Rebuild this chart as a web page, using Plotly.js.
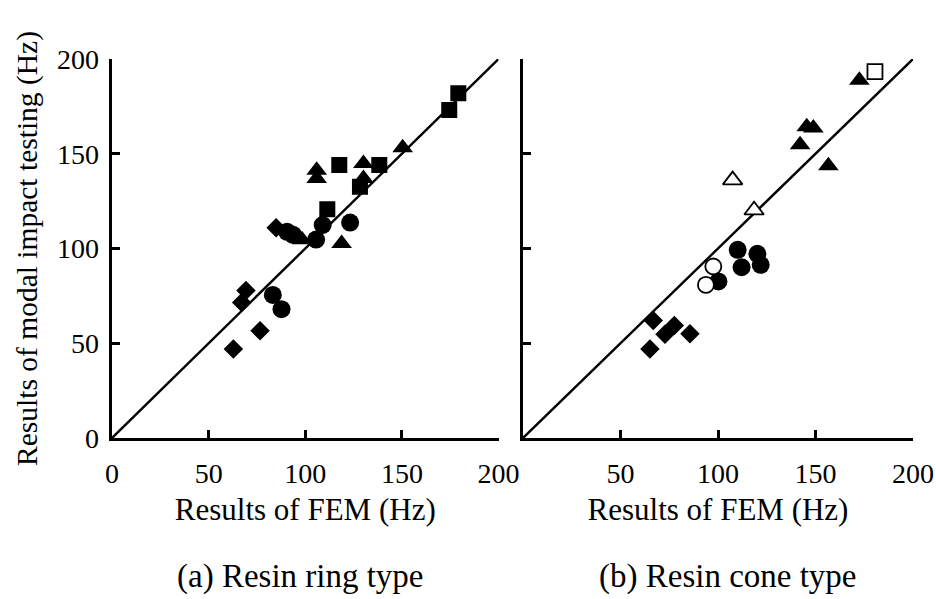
<!DOCTYPE html>
<html>
<head>
<meta charset="utf-8">
<script src="https://cdn.plot.ly/plotly-3.0.1.min.js"></script>
<style>html,body{margin:0;padding:0;background:#fff}#chart{width:936px;height:599px}</style>
</head>
<body>
<div id="chart"></div>
<script>
// ---- Data: (a) Resin ring type ----
const ringDiamondX = [62.8, 67.1, 69.3, 76.6, 84.9];
const ringDiamondY = [46.9, 71.5, 77.8, 56.6, 110.9];
const ringCircleX = [83.2, 87.7, 90.6, 93.7, 105.6, 109.0, 123.2];
const ringCircleY = [75.5, 68.0, 108.8, 107.2, 104.7, 112.4, 113.7];
const ringTriangleX = [98.3, 105.9, 105.9, 118.8, 130.1, 130.1, 150.4];
const ringTriangleY = [104.6, 141.3, 136.9, 102.6, 144.8, 136.9, 153.1];
const ringSquareX = [111.4, 117.6, 128.3, 138.3, 174.5, 179.2];
const ringSquareY = [120.7, 144.1, 132.6, 144.1, 173.1, 181.9];

// ---- Data: (b) Resin cone type ----
const coneDiamondX = [65.1, 66.8, 72.8, 77.6, 85.6];
const coneDiamondY = [46.9, 62.0, 54.8, 59.4, 55.0];
const coneCircleX = [100.2, 110.1, 112.1, 120.2, 121.9];
const coneCircleY = [82.6, 99.3, 90.1, 97.2, 91.4];
const coneOpenCircleX = [93.8, 97.6];
const coneOpenCircleY = [80.8, 90.5];
const coneTriangleX = [142.1, 145.5, 148.9, 156.6, 172.5];
const coneTriangleY = [154.8, 164.2, 163.6, 143.6, 188.8];
const coneOpenTriangleX = [107.5, 118.5];
const coneOpenTriangleY = [136.1, 120.2];
const coneOpenSquareX = [180.5];
const coneOpenSquareY = [193.3];

// ---- 1:1 reference line ----
const lineX = [0, 200];
const lineY = [0, 200];

// ---- Ticks and labels ----
const tickValsFull = [0, 50, 100, 150, 200];
const tickValsNoZero = [50, 100, 150, 200];
const xTitle = 'Results of FEM (Hz)';
const yTitle = 'Results of modal impact testing (Hz)';
const subTitleA = '(a) Resin ring type';
const subTitleB = '(b) Resin cone type';

const FONT = 'Liberation Serif';
const black = '#000';

function filled(x, y, sym, size, xa, ya) {
  return {x: x, y: y, xaxis: xa, yaxis: ya, type: 'scatter', mode: 'markers', hoverinfo: 'skip',
    marker: {symbol: sym, size: size, color: black, line: {width: 0}}};
}
function open(x, y, sym, size, xa, ya) {
  return {x: x, y: y, xaxis: xa, yaxis: ya, type: 'scatter', mode: 'markers', hoverinfo: 'skip',
    marker: {symbol: sym, size: size, color: '#fff', line: {width: 1.8, color: black}}};
}
function diag(xa, ya) {
  return {x: lineX, y: lineY, xaxis: xa, yaxis: ya, type: 'scatter', mode: 'lines', hoverinfo: 'skip',
    line: {color: black, width: 2.4}};
}

const data = [
  diag('x', 'y'),
  filled(ringDiamondX, ringDiamondY, 'diamond', 15, 'x', 'y'),
  filled(ringCircleX, ringCircleY, 'circle', 18, 'x', 'y'),
  filled(ringTriangleX, ringTriangleY, 'triangle-up', 18, 'x', 'y'),
  filled(ringSquareX, ringSquareY, 'square', 16, 'x', 'y'),
  diag('x2', 'y2'),
  filled(coneDiamondX, coneDiamondY, 'diamond', 15, 'x2', 'y2'),
  filled(coneCircleX, coneCircleY, 'circle', 18, 'x2', 'y2'),
  open(coneOpenCircleX, coneOpenCircleY, 'circle', 16, 'x2', 'y2'),
  filled(coneTriangleX, coneTriangleY, 'triangle-up', 18, 'x2', 'y2'),
  open(coneOpenTriangleX, coneOpenTriangleY, 'triangle-up', 17, 'x2', 'y2'),
  open(coneOpenSquareX, coneOpenSquareY, 'square', 15, 'x2', 'y2')
];

const axisBase = {
  range: [0, 200], showgrid: false, zeroline: false, showline: true,
  linecolor: black, linewidth: 3.5, ticks: 'inside', ticklen: 8, tickwidth: 3, tickcolor: black,
  tickfont: {family: FONT, size: 28, color: black}, fixedrange: true
};

const layout = {
  width: 936, height: 599,
  margin: {l: 0, r: 0, t: 0, b: 0},
  paper_bgcolor: '#fff', plot_bgcolor: '#fff',
  showlegend: false,
  xaxis: Object.assign({}, axisBase, {domain: [0.1197, 0.5326], anchor: 'y', tickvals: tickValsFull,
    ticklabelstandoff: 8,
    title: {text: xTitle, font: {family: FONT, size: 31, color: black}, standoff: 11}}),
  yaxis: Object.assign({}, axisBase, {domain: [0.2688, 0.9015], anchor: 'x', tickvals: tickValsFull,
    ticklabelstandoff: 4,
    title: {text: yTitle, font: {family: FONT, size: 29.5, color: black}, standoff: 11}}),
  xaxis2: Object.assign({}, axisBase, {domain: [0.5588, 0.9754], anchor: 'y2', tickvals: tickValsNoZero,
    ticklabelstandoff: 8,
    title: {text: xTitle, font: {family: FONT, size: 31, color: black}, standoff: 11}}),
  yaxis2: Object.assign({}, axisBase, {domain: [0.2688, 0.9015], anchor: 'x2', tickvals: tickValsFull,
    showticklabels: false}),
  annotations: [
    {text: subTitleA, xref: 'paper', yref: 'paper', x: 300 / 936, y: 1 - 576 / 599, xanchor: 'center', yanchor: 'middle',
     showarrow: false, font: {family: FONT, size: 33, color: black}},
    {text: subTitleB, xref: 'paper', yref: 'paper', x: 728 / 936, y: 1 - 576 / 599, xanchor: 'center', yanchor: 'middle',
     showarrow: false, font: {family: FONT, size: 33, color: black}}
  ]
};

Plotly.newPlot('chart', data, layout, {staticPlot: true, displayModeBar: false});
</script>
</body>
</html>
